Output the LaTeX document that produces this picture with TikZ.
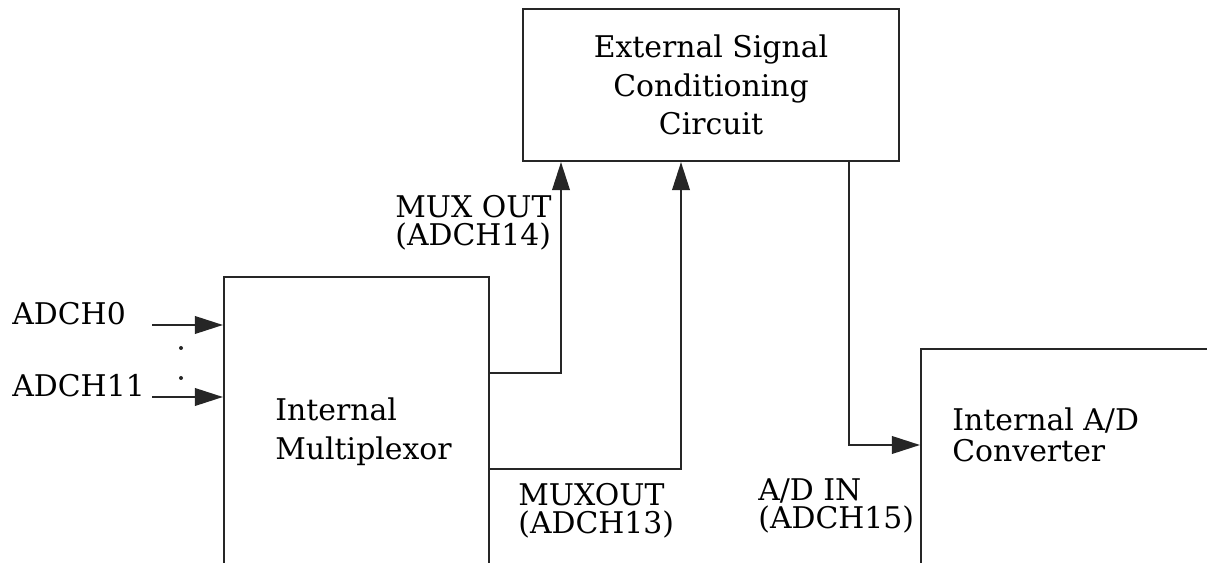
\documentclass[tikz,border=0pt]{standalone}
\usepackage{fontspec}
\setmainfont{DejaVu Serif}
\usetikzlibrary{arrows.meta, positioning}

\begin{document}
\begin{tikzpicture}[x=0.02cm, y=-0.02cm,
  block/.style={draw=black!85, line width=1.2pt, inner sep=0pt},
  lbl/.style={anchor=base west, align=left, inner sep=0pt, font=\fontsize{17}{16}\selectfont},
  arr/.style={-{Triangle[length=16pt, width=10pt]}, line width=1.2pt, draw=black!85},
  dot/.style={fill=black!85}
]
\useasboundingbox (0,0) rectangle (1207,563);
\clip (0,0) rectangle (1207,563);

% blocks
\node[block, minimum width=7.52cm, minimum height=3.04cm, align=center,
      font=\fontsize{17}{21.8}\selectfont] (ext) at (711,85)
      {External Signal\\Conditioning\\Circuit};
\node[block, minimum width=5.3cm, minimum height=7.26cm] (mux) at (356.5,458.5) {};
\node[block, minimum width=7.18cm, minimum height=5.82cm] (adc) at (1100.5,494.5) {};

% block names (base = last line)
\node[lbl, font=\fontsize{17}{22.7}\selectfont] (muxname) at (275,460) {Internal\\Multiplexor};
\node[lbl, font=\fontsize{17}{18.2}\selectfont] (adcname) at (952,462) {Internal A/D\\Converter};

% signal labels
\node[lbl] (ch0) at (12,325) {ADCH0};
\node[lbl] (ch11) at (12,397) {ADCH11};
\node[lbl] (ch14) at (395,246) {MUX OUT\\(ADCH14)};
\node[lbl] (ch13) at (518,534) {MUXOUT\\(ADCH13)};
\node[lbl] (ch15) at (758,529) {A/D IN\\(ADCH15)};

\fill[dot] (181,348) circle (2);
\fill[dot] (181,378) circle (2);

% wires
\coordinate (s0) at (152,325);
\coordinate (s11) at (152,397);
\coordinate (p14) at (561,373);
\coordinate (p13) at (681,469);
\coordinate (pin) at (849,445);

\draw[arr] (s0) -- (s0 -| mux.west);
\draw[arr] (s11) -- (s11 -| mux.west);
\draw[arr] (p14 -| mux.east) -- (p14) -- (p14 |- ext.south);
\draw[arr] (p13 -| mux.east) -- (p13) -- (p13 |- ext.south);
\draw[arr] (pin |- ext.south) -- (pin) -- (pin -| adc.west);
\end{tikzpicture}
\end{document}
